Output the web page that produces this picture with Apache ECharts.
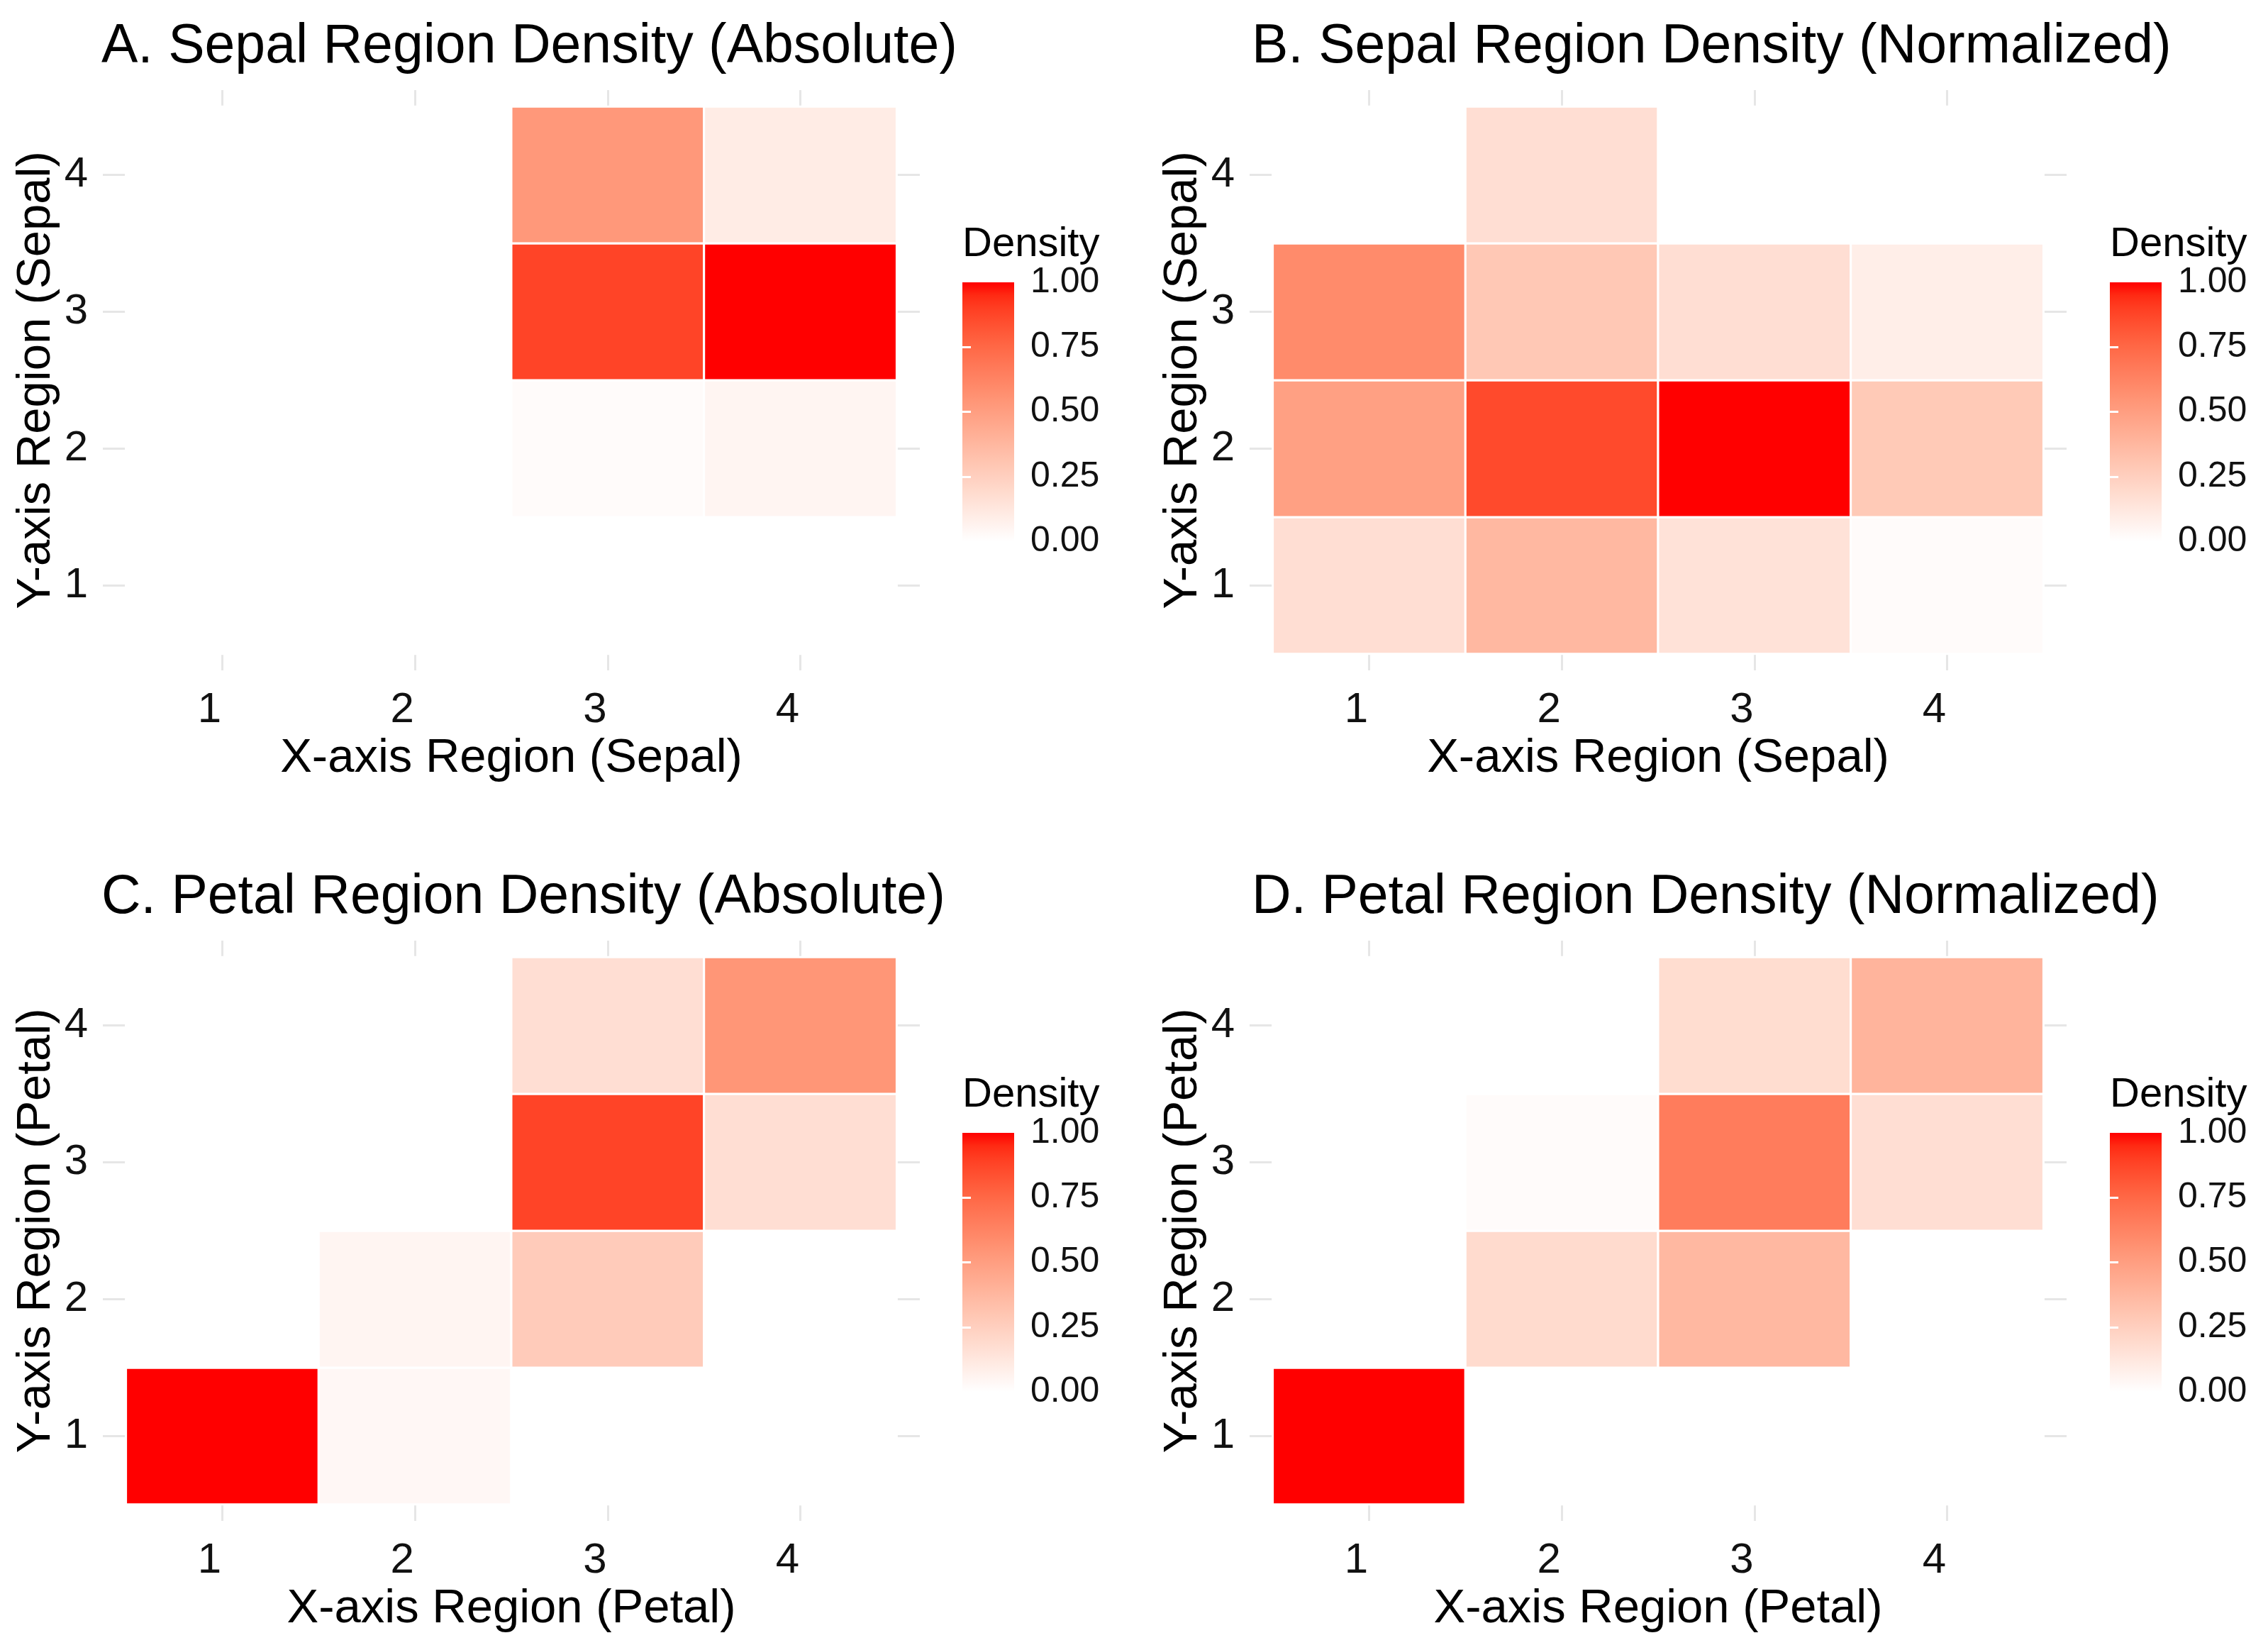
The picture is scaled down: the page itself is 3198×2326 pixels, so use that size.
<!DOCTYPE html>
<html>
<head>
<meta charset="utf-8">
<script src="https://cdn.jsdelivr.net/npm/echarts@6/dist/echarts.min.js"></script>
<style>
html, body { margin: 0; padding: 0; background: #ffffff; }
#chart { width: 3198px; height: 2326px; }
</style>
</head>
<body>
<div id="chart"></div>
<script>
// ---------------- data ----------------
const regionTicks = [1, 2, 3, 4];
const legendTicks = [0, 0.25, 0.5, 0.75, 1];
const legendInnerTicks = [0.25, 0.5, 0.75];

// rows: y region 1..4 (bottom to top); columns: x region 1..4
const sepalAbsolute = [
  [0, 0, 0, 0],
  [0, 0, 0.02, 0.05],
  [0, 0, 0.88, 1.00],
  [0, 0, 0.53, 0.10]
];
const sepalNormalized = [
  [0.17, 0.37, 0.15, 0.02],
  [0.49, 0.86, 1.00, 0.28],
  [0.59, 0.29, 0.17, 0.09],
  [0, 0.17, 0, 0]
];
const petalAbsolute = [
  [1.00, 0.04, 0, 0],
  [0, 0.05, 0.27, 0],
  [0, 0, 0.88, 0.17],
  [0, 0, 0.17, 0.54]
];
const petalNormalized = [
  [1.00, 0, 0, 0],
  [0, 0.19, 0.37, 0],
  [0, 0.02, 0.66, 0.17],
  [0, 0, 0.18, 0.39]
];

const panelTitles = [
  'A. Sepal Region Density (Absolute)',
  'B. Sepal Region Density (Normalized)',
  'C. Petal Region Density (Absolute)',
  'D. Petal Region Density (Normalized)'
];
const xAxisNames = ['X-axis Region (Sepal)', 'X-axis Region (Sepal)', 'X-axis Region (Petal)', 'X-axis Region (Petal)'];
const yAxisNames = ['Y-axis Region (Sepal)', 'Y-axis Region (Sepal)', 'Y-axis Region (Petal)', 'Y-axis Region (Petal)'];
const legendTitle = 'Density';
const panelMatrices = [sepalAbsolute, sepalNormalized, petalAbsolute, petalNormalized];

// ---------------- colour scale (white -> red, Lab interpolation like ggplot) ----------------
function labToHex(L, a, b) {
  const fy = (L + 16) / 116, fx = fy + a / 500, fz = fy - b / 200;
  const inv = t => (t * t * t > 0.008856 ? t * t * t : (t - 16 / 116) / 7.787);
  const X = 0.95047 * inv(fx), Y = 1.0 * inv(fy), Z = 1.08883 * inv(fz);
  let r = 3.2406 * X - 1.5372 * Y - 0.4986 * Z;
  let g = -0.9689 * X + 1.8758 * Y + 0.0415 * Z;
  let bl = 0.0557 * X - 0.2040 * Y + 1.0570 * Z;
  const gam = c => {
    c = c <= 0.0031308 ? 12.92 * c : 1.055 * Math.pow(c, 1 / 2.4) - 0.055;
    return Math.max(0, Math.min(255, Math.round(c * 255)));
  };
  return '#' + [gam(r), gam(g), gam(bl)].map(v => v.toString(16).padStart(2, '0')).join('');
}
const LOW = [100, 0, 0], HIGH = [53.2408, 80.0925, 67.2032];
const colorStops = [];
for (let k = 0; k <= 20; k++) {
  const t = k / 20;
  colorStops.push(labToHex(LOW[0] + (HIGH[0] - LOW[0]) * t, LOW[1] + (HIGH[1] - LOW[1]) * t, LOW[2] + (HIGH[2] - LOW[2]) * t));
}

// ---------------- layout ----------------
const FONT = 'Liberation Sans, Arial, Helvetica, sans-serif';
const TXT = '#111111';
const EXP = 0.12;
const AX_MIN = 0.5 - EXP, AX_MAX = 4.5 + EXP;

const grids = [], xAxes = [], yAxes = [], series = [], titles = [];
const legendYAxesLeft = [];

for (let i = 0; i < 4; i++) {
  const c = i % 2, r = Math.floor(i / 2);
  const dx = c * 1617, dy = r * 1199;
  grids.push({ left: 145 + dx, top: 127 + dy, width: 1152, height: 818 });
  titles.push({
    text: panelTitles[i], left: 143 + c * 1622, top: 28 + dy, padding: 0,
    textStyle: { fontFamily: FONT, fontSize: 77, fontWeight: 'normal', color: '#000' }
  });
  titles.push({
    text: legendTitle, left: 1357 + c * 1618, top: 316 + dy, padding: 0,
    textStyle: { fontFamily: FONT, fontSize: 58, fontWeight: 'normal', color: '#000' }
  });
  xAxes.push({
    type: 'value', gridIndex: i, min: AX_MIN, max: AX_MAX,
    axisLine: { show: false },
    axisTick: { show: false, customValues: regionTicks },
    axisLabel: { customValues: regionTicks, fontFamily: FONT, fontSize: 60, color: TXT, margin: 26, padding: [0, 36, 0, 0] },
    splitLine: { show: true, lineStyle: { color: '#e6e6e6', width: 3 } },
    name: xAxisNames[i], nameLocation: 'middle', nameGap: 91,
    nameTextStyle: { fontFamily: FONT, fontSize: 67, color: '#000' }
  });
  yAxes.push({
    type: 'value', gridIndex: i, min: AX_MIN, max: AX_MAX,
    axisLine: { show: false },
    axisTick: { show: false, customValues: regionTicks },
    axisLabel: { customValues: regionTicks, fontFamily: FONT, fontSize: 60, color: TXT, margin: 21 },
    splitLine: { show: true, lineStyle: { color: '#e6e6e6', width: 3 } },
    name: yAxisNames[i], nameLocation: 'middle', nameGap: 60, nameRotate: 90,
    nameTextStyle: { fontFamily: FONT, fontSize: 67, color: '#000' }
  });
  const data = [];
  panelMatrices[i].forEach((row, yi) => row.forEach((v, xi) => data.push([regionTicks[xi], regionTicks[yi], v])));
  series.push({
    type: 'custom', xAxisIndex: i, yAxisIndex: i, silent: true, z: 2,
    encode: { x: 0, y: 1 },
    data: data,
    renderItem: function (params, api) {
      const x = api.value(0), y = api.value(1);
      const p0 = api.coord([x - 0.5, y + 0.5]);
      const p1 = api.coord([x + 0.5, y - 0.5]);
      return {
        type: 'rect',
        shape: { x: p0[0], y: p0[1], width: p1[0] - p0[0], height: p1[1] - p0[1] },
        style: { fill: api.visual('color'), stroke: '#ffffff', lineWidth: 3 }
      };
    }
  });
}

// legend colourbars
for (let i = 0; i < 4; i++) {
  const c = i % 2, r = Math.floor(i / 2);
  const dy = r * 1199;
  grids.push({ left: 1357 + c * 1618, top: 398 + dy, width: 73, height: 365 });
  xAxes.push({ type: 'value', gridIndex: 4 + i, min: 0, max: 1, show: false });
  yAxes.push({
    type: 'value', gridIndex: 4 + i, min: 0, max: 1, interval: 0.25, position: 'right', z: 10,
    axisLine: { show: false },
    axisTick: { show: true, inside: true, length: 12, customValues: legendInnerTicks, lineStyle: { color: '#ffffff', width: 3 } },
    axisLabel: { customValues: legendTicks, fontFamily: FONT, fontSize: 50, color: TXT, margin: 23, formatter: v => Number(v).toFixed(2) },
    splitLine: { show: false }
  });
  legendYAxesLeft.push({
    type: 'value', gridIndex: 4 + i, min: 0, max: 1, interval: 0.25, position: 'left', z: 10,
    axisLine: { show: false },
    axisTick: { show: true, inside: true, length: 12, customValues: legendInnerTicks, lineStyle: { color: '#ffffff', width: 3 } },
    axisLabel: { show: false },
    splitLine: { show: false }
  });
}
yAxes.push(...legendYAxesLeft);

const gradientFill = {
  type: 'linear', x: 0, y: 1, x2: 0, y2: 0,
  colorStops: colorStops.map((col, k) => ({ offset: k / (colorStops.length - 1), color: col }))
};
for (let i = 0; i < 4; i++) {
  series.push({
    type: 'custom', xAxisIndex: 4 + i, yAxisIndex: 4 + i, silent: true, z: 2,
    data: [[0, 0]],
    renderItem: function (params, api) {
      const p0 = api.coord([0, 1]);
      const p1 = api.coord([1, 0]);
      return {
        type: 'rect',
        shape: { x: p0[0], y: p0[1], width: p1[0] - p0[0], height: p1[1] - p0[1] },
        style: { fill: gradientFill }
      };
    }
  });
}

const chart = echarts.init(document.getElementById('chart'), null, { renderer: 'canvas' });
chart.setOption({
  backgroundColor: '#ffffff',
  animation: false,
  title: titles,
  grid: grids,
  xAxis: xAxes,
  yAxis: yAxes,
  visualMap: {
    type: 'continuous', show: false, min: 0, max: 1, dimension: 2,
    seriesIndex: [0, 1, 2, 3],
    inRange: { color: colorStops }
  },
  series: series
});
</script>
</body>
</html>
